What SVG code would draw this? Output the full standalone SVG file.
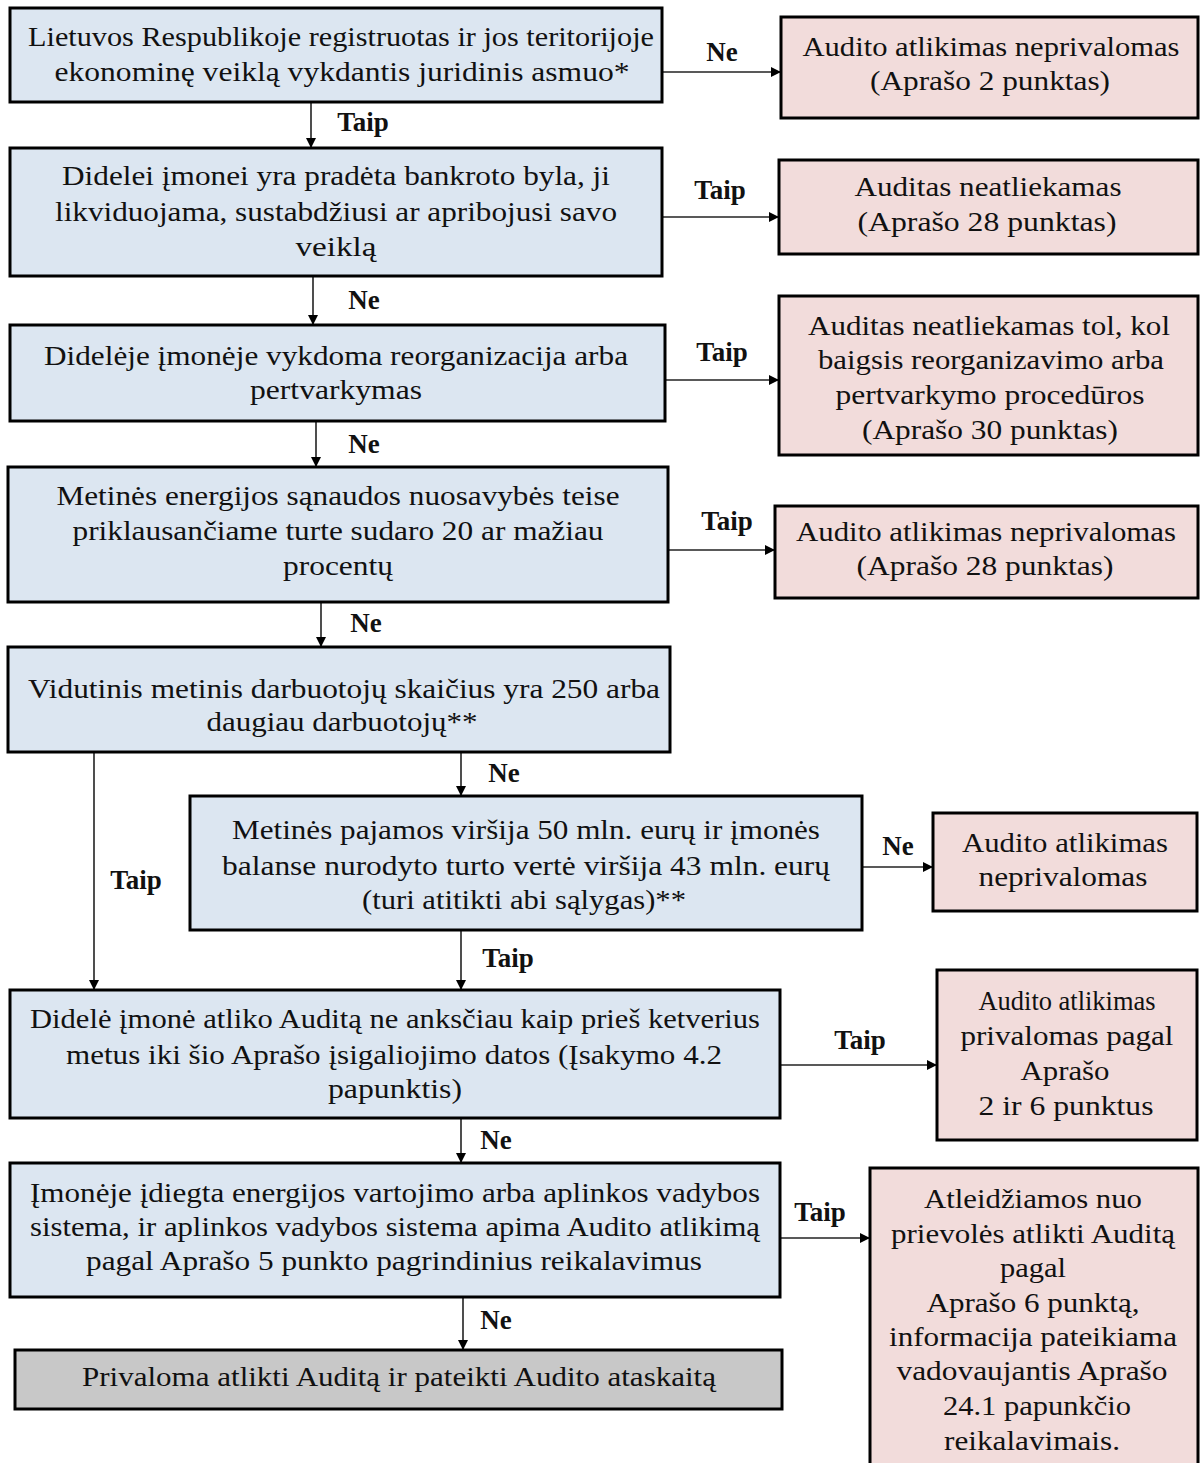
<svg xmlns="http://www.w3.org/2000/svg" width="1200" height="1463" viewBox="0 0 1200 1463">
<style>
.q{fill:#dce6f1;stroke:#000;stroke-width:3}
.r{fill:#f2dcdb;stroke:#000;stroke-width:3}
.g{fill:#c8c8c8;stroke:#000;stroke-width:3}
.t{font-family:"Liberation Serif","Times New Roman",serif;font-size:28px;fill:#111;text-anchor:middle}
.l{font-family:"Liberation Serif","Times New Roman",serif;font-size:27px;font-weight:bold;fill:#111;text-anchor:middle}
.c{stroke:#222;stroke-width:1.6;fill:none;marker-end:url(#a)}
</style>
<defs>
<marker id="a" markerWidth="10" markerHeight="10" refX="9" refY="5" orient="auto" markerUnits="userSpaceOnUse">
<path d="M0,0 L10,5 L0,10 z" fill="#000"/>
</marker>
</defs>
<rect width="1200" height="1463" fill="#fff"/>

<g id="connectors">
<line class="c" x1="662" y1="72" x2="780" y2="72"/>
<line class="c" x1="311" y1="102" x2="311" y2="147"/>
<line class="c" x1="662" y1="217" x2="778" y2="217"/>
<line class="c" x1="313" y1="277" x2="313" y2="324"/>
<line class="c" x1="665" y1="380" x2="778" y2="380"/>
<line class="c" x1="316" y1="422" x2="316" y2="466"/>
<line class="c" x1="668" y1="550" x2="774" y2="550"/>
<line class="c" x1="321" y1="603" x2="321" y2="646"/>
<line class="c" x1="461" y1="753" x2="461" y2="795"/>
<line class="c" x1="94" y1="753" x2="94" y2="989"/>
<line class="c" x1="862" y1="867" x2="932" y2="867"/>
<line class="c" x1="461" y1="931" x2="461" y2="989"/>
<line class="c" x1="780" y1="1065" x2="936" y2="1065"/>
<line class="c" x1="461" y1="1119" x2="461" y2="1162"/>
<line class="c" x1="780" y1="1238" x2="869" y2="1238"/>
<line class="c" x1="463" y1="1298" x2="463" y2="1349"/>
<text class="l" x="722" y="61">Ne</text>
<text class="l" x="363" y="131">Taip</text>
<text class="l" x="720" y="199">Taip</text>
<text class="l" x="364" y="309">Ne</text>
<text class="l" x="722" y="361">Taip</text>
<text class="l" x="364" y="453">Ne</text>
<text class="l" x="727" y="530">Taip</text>
<text class="l" x="366" y="632">Ne</text>
<text class="l" x="504" y="782">Ne</text>
<text class="l" x="136" y="889">Taip</text>
<text class="l" x="898" y="855">Ne</text>
<text class="l" x="508" y="967">Taip</text>
<text class="l" x="860" y="1049">Taip</text>
<text class="l" x="496" y="1149">Ne</text>
<text class="l" x="820" y="1221">Taip</text>
<text class="l" x="496" y="1329">Ne</text>
</g>

<g id="n1">
<rect class="q" x="10" y="8" width="652" height="94"/>
<text class="t" x="341" y="46" textLength="626" lengthAdjust="spacingAndGlyphs">Lietuvos Respublikoje registruotas ir jos teritorijoje</text>
<text class="t" x="342" y="81" textLength="575" lengthAdjust="spacingAndGlyphs">ekonominę veiklą vykdantis juridinis asmuo*</text>
</g>
<g id="r1">
<rect class="r" x="781" y="17" width="417" height="101"/>
<text class="t" x="991" y="56" textLength="377" lengthAdjust="spacingAndGlyphs">Audito atlikimas neprivalomas</text>
<text class="t" x="990" y="90" textLength="240" lengthAdjust="spacingAndGlyphs">(Aprašo 2 punktas)</text>
</g>

<g id="n2">
<rect class="q" x="10" y="148" width="652" height="128"/>
<text class="t" x="336" y="185" textLength="548" lengthAdjust="spacingAndGlyphs">Didelei įmonei yra pradėta bankroto byla, ji</text>
<text class="t" x="336" y="221" textLength="562" lengthAdjust="spacingAndGlyphs">likviduojama, sustabdžiusi ar apribojusi savo</text>
<text class="t" x="336" y="256" textLength="81" lengthAdjust="spacingAndGlyphs">veiklą</text>
</g>
<g id="r2">
<rect class="r" x="779" y="160" width="419" height="94"/>
<text class="t" x="988" y="196" textLength="267" lengthAdjust="spacingAndGlyphs">Auditas neatliekamas</text>
<text class="t" x="987" y="231" textLength="259" lengthAdjust="spacingAndGlyphs">(Aprašo 28 punktas)</text>
</g>

<g id="n3">
<rect class="q" x="10" y="325" width="655" height="96"/>
<text class="t" x="336" y="365" textLength="584" lengthAdjust="spacingAndGlyphs">Didelėje įmonėje vykdoma reorganizacija arba</text>
<text class="t" x="336" y="399" textLength="172" lengthAdjust="spacingAndGlyphs">pertvarkymas</text>
</g>
<g id="r3">
<rect class="r" x="779" y="296" width="419" height="159"/>
<text class="t" x="989" y="335" textLength="362" lengthAdjust="spacingAndGlyphs">Auditas neatliekamas tol, kol</text>
<text class="t" x="991" y="369" textLength="346" lengthAdjust="spacingAndGlyphs">baigsis reorganizavimo arba</text>
<text class="t" x="990" y="404" textLength="309" lengthAdjust="spacingAndGlyphs">pertvarkymo procedūros</text>
<text class="t" x="990" y="439" textLength="256" lengthAdjust="spacingAndGlyphs">(Aprašo 30 punktas)</text>
</g>

<g id="n4">
<rect class="q" x="8" y="467" width="660" height="135"/>
<text class="t" x="338" y="505" textLength="563" lengthAdjust="spacingAndGlyphs">Metinės energijos sąnaudos nuosavybės teise</text>
<text class="t" x="338" y="540" textLength="531" lengthAdjust="spacingAndGlyphs">priklausančiame turte sudaro 20 ar mažiau</text>
<text class="t" x="338" y="575" textLength="110" lengthAdjust="spacingAndGlyphs">procentų</text>
</g>
<g id="r4">
<rect class="r" x="775" y="506" width="423" height="92"/>
<text class="t" x="986" y="541" textLength="380" lengthAdjust="spacingAndGlyphs">Audito atlikimas neprivalomas</text>
<text class="t" x="985" y="575" textLength="257" lengthAdjust="spacingAndGlyphs">(Aprašo 28 punktas)</text>
</g>

<g id="n5">
<rect class="q" x="8" y="647" width="662" height="105"/>
<text class="t" x="344" y="698" textLength="632" lengthAdjust="spacingAndGlyphs">Vidutinis metinis darbuotojų skaičius yra 250 arba</text>
<text class="t" x="342" y="731" textLength="271" lengthAdjust="spacingAndGlyphs">daugiau darbuotojų**</text>
</g>

<g id="n6">
<rect class="q" x="190" y="796" width="672" height="134"/>
<text class="t" x="526" y="839" textLength="588" lengthAdjust="spacingAndGlyphs">Metinės pajamos viršija 50 mln. eurų ir įmonės</text>
<text class="t" x="526" y="875" textLength="608" lengthAdjust="spacingAndGlyphs">balanse nurodyto turto vertė viršija 43 mln. eurų</text>
<text class="t" x="524" y="909" textLength="324" lengthAdjust="spacingAndGlyphs">(turi atitikti abi sąlygas)**</text>
</g>
<g id="r6">
<rect class="r" x="933" y="813" width="264" height="98"/>
<text class="t" x="1065" y="852" textLength="206" lengthAdjust="spacingAndGlyphs">Audito atlikimas</text>
<text class="t" x="1063" y="886" textLength="169" lengthAdjust="spacingAndGlyphs">neprivalomas</text>
</g>

<g id="n7">
<rect class="q" x="10" y="990" width="770" height="128"/>
<text class="t" x="395" y="1028" textLength="730" lengthAdjust="spacingAndGlyphs">Didelė įmonė atliko Auditą ne anksčiau kaip prieš ketverius</text>
<text class="t" x="394" y="1064" textLength="656" lengthAdjust="spacingAndGlyphs">metus iki šio Aprašo įsigaliojimo datos (Įsakymo 4.2</text>
<text class="t" x="395" y="1098" textLength="134" lengthAdjust="spacingAndGlyphs">papunktis)</text>
</g>
<g id="r7">
<rect class="r" x="937" y="970" width="260" height="170"/>
<text class="t" x="1067" y="1010" textLength="177" lengthAdjust="spacingAndGlyphs">Audito atlikimas</text>
<text class="t" x="1067" y="1045" textLength="213" lengthAdjust="spacingAndGlyphs">privalomas pagal</text>
<text class="t" x="1065" y="1080" textLength="89" lengthAdjust="spacingAndGlyphs">Aprašo</text>
<text class="t" x="1066" y="1115" textLength="175" lengthAdjust="spacingAndGlyphs">2 ir 6 punktus</text>
</g>

<g id="n8">
<rect class="q" x="10" y="1163" width="770" height="134"/>
<text class="t" x="395" y="1202" textLength="730" lengthAdjust="spacingAndGlyphs">Įmonėje įdiegta energijos vartojimo arba aplinkos vadybos</text>
<text class="t" x="395" y="1236" textLength="730" lengthAdjust="spacingAndGlyphs">sistema, ir aplinkos vadybos sistema apima Audito atlikimą</text>
<text class="t" x="394" y="1270" textLength="616" lengthAdjust="spacingAndGlyphs">pagal Aprašo 5 punkto pagrindinius reikalavimus</text>
</g>
<g id="r8">
<rect class="r" x="870" y="1168" width="328" height="310"/>
<text class="t" x="1033" y="1208" textLength="218" lengthAdjust="spacingAndGlyphs">Atleidžiamos nuo</text>
<text class="t" x="1033" y="1243" textLength="284" lengthAdjust="spacingAndGlyphs">prievolės atlikti Auditą</text>
<text class="t" x="1033" y="1277" textLength="66" lengthAdjust="spacingAndGlyphs">pagal</text>
<text class="t" x="1033" y="1312" textLength="213" lengthAdjust="spacingAndGlyphs">Aprašo 6 punktą,</text>
<text class="t" x="1033" y="1346" textLength="288" lengthAdjust="spacingAndGlyphs">informacija pateikiama</text>
<text class="t" x="1032" y="1380" textLength="271" lengthAdjust="spacingAndGlyphs">vadovaujantis Aprašo</text>
<text class="t" x="1037" y="1415" textLength="188" lengthAdjust="spacingAndGlyphs">24.1 papunkčio</text>
<text class="t" x="1032" y="1450" textLength="176" lengthAdjust="spacingAndGlyphs">reikalavimais.</text>
</g>

<g id="n9">
<rect class="g" x="15" y="1350" width="767" height="59"/>
<text class="t" x="399" y="1386" textLength="634" lengthAdjust="spacingAndGlyphs">Privaloma atlikti Auditą ir pateikti Audito ataskaitą</text>
</g>
</svg>
